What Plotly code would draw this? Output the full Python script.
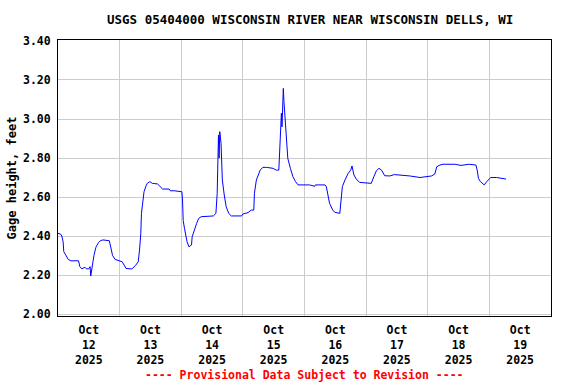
import pandas as pd
import plotly.graph_objects as go

# Hours after 2025-10-12 00:00 and gage height (feet)
hours = [0, 1, 1.5, 2, 2.25, 3, 4, 5, 8, 8.5, 9.25, 10.5, 11, 12, 12.5, 12.75, 13.5, 14, 14.75,
         15.75, 16.5, 17.5, 20, 20.5, 21.25, 22.25, 23.75, 25, 26.5, 28.75, 30.25, 31.25, 31.75,
         32.25, 32.5, 33, 33.5, 34.25, 34.75, 35.75, 36.75, 38.75, 39.5, 40.75, 43.25, 43.75,
         45.25, 47.5, 48.25, 48.5, 48.75, 49.25, 49.75, 50.25, 51, 52, 52.25, 53.25, 54, 54.75,
         55.75, 60.5, 61.5, 62, 62.25, 62.5, 62.75, 63, 63.5, 64, 64.75, 65.5, 66.5, 67.5, 71.5,
         72, 74, 75.25, 76.25, 76.5, 77.25, 78, 78.75, 79.75, 81.25, 83.75, 85, 86, 86.5, 87,
         87.25, 87.75, 88, 88.5, 89, 89.5, 90.5, 91.5, 92.5, 93.5, 98, 100, 100.25, 104, 104.5,
         105.25, 105.75, 107, 107.75, 109.75, 110.25, 110.75, 111.75, 113, 114, 114.5, 115.25,
         116.25, 117.5, 122, 123, 124, 125, 126, 127.25, 129.25, 131, 133, 137, 141, 145.5,
         146.75, 147.5, 148.75, 150, 154.5, 157, 160, 162.75, 163.25, 163.75, 164.5, 166, 167,
         168.5, 170.75, 172.75, 174.5]
stage = [2.414, 2.41, 2.40, 2.37, 2.32, 2.30, 2.28, 2.273, 2.273, 2.243, 2.232, 2.24, 2.232,
         2.232, 2.243, 2.195, 2.277, 2.30, 2.342, 2.366, 2.376, 2.38, 2.376, 2.35, 2.30, 2.28,
         2.273, 2.268, 2.234, 2.231, 2.25, 2.268, 2.328, 2.414, 2.516, 2.576, 2.627, 2.656,
         2.670, 2.679, 2.670, 2.667, 2.655, 2.641, 2.641, 2.632, 2.632, 2.627, 2.627, 2.585,
         2.48, 2.44, 2.405, 2.371, 2.345, 2.354, 2.396, 2.44, 2.465, 2.49, 2.499, 2.503, 2.516,
         2.619, 2.798, 2.918, 2.80, 2.935, 2.875, 2.687, 2.61, 2.55, 2.516, 2.503, 2.503, 2.513,
         2.52, 2.533, 2.533, 2.619, 2.687, 2.713, 2.738, 2.752, 2.752, 2.747, 2.738, 2.738,
         2.892, 3.029, 2.96, 3.157, 3.089, 2.995, 2.892, 2.798, 2.747, 2.704, 2.679, 2.662,
         2.662, 2.655, 2.662, 2.662, 2.653, 2.60, 2.568, 2.533, 2.522, 2.516, 2.585, 2.653,
         2.687, 2.721, 2.738, 2.759, 2.713, 2.69, 2.675, 2.67, 2.704, 2.735, 2.747, 2.738,
         2.709, 2.708, 2.715, 2.713, 2.708, 2.70, 2.708, 2.718, 2.755, 2.764, 2.768, 2.768,
         2.762, 2.768, 2.764, 2.738, 2.696, 2.679, 2.662, 2.679, 2.70, 2.70, 2.696, 2.692]

day_labels = ["Oct<br>12<br>2025", "Oct<br>13<br>2025", "Oct<br>14<br>2025", "Oct<br>15<br>2025",
              "Oct<br>16<br>2025", "Oct<br>17<br>2025", "Oct<br>18<br>2025", "Oct<br>19<br>2025"]
y_ticks = [2.0, 2.2, 2.4, 2.6, 2.8, 3.0, 3.2, 3.4]

start = pd.Timestamp("2025-10-12 00:00")
times = [start + pd.Timedelta(hours=h) for h in hours]
label_pos = [start + pd.Timedelta(hours=12 + 24 * i) for i in range(len(day_labels))]
grid_pos = [start + pd.Timedelta(days=i) for i in range(1, 8)]

FONT = "DejaVu Sans Mono"

fig = go.Figure()
fig.add_trace(go.Scatter(x=times, y=stage, mode="lines",
                         line=dict(color="#0000ff", width=1), showlegend=False))

fig.update_layout(
    width=576, height=384,
    margin=dict(l=58, r=25, t=40, b=68, autoexpand=False),
    plot_bgcolor="white", paper_bgcolor="white",
    font=dict(family=FONT, color="black", size=11),
    xaxis=dict(
        type="date",
        range=[start, start + pd.Timedelta(days=8)],
        tickmode="array", tickvals=label_pos, ticktext=day_labels,
        showgrid=False, ticks="", automargin=False, ticklabelstandoff=3,
        tickfont=dict(family=FONT, size=11.5, color="black", weight="bold"),
        showline=True, linecolor="black", linewidth=1, mirror=True,
        minor=dict(tickmode="array", tickvals=grid_pos, showgrid=True,
                   gridcolor="#cccccc", gridwidth=1, ticks=""),
        zeroline=False,
    ),
    yaxis=dict(
        range=[1.99, 3.405],
        tickmode="array", tickvals=y_ticks, ticktext=[f"{v:.2f}" for v in y_ticks],
        showgrid=True, gridcolor="#cccccc", gridwidth=1,
        ticks="", ticklabelstandoff=4, automargin=False,
        tickfont=dict(family=FONT, size=11.5, color="black", weight="bold"),
        showline=True, linecolor="black", linewidth=1, mirror=True,
        zeroline=False,
        title=dict(text="Gage height, feet", standoff=3,
                   font=dict(family=FONT, size=12, color="black", weight="bold")),
    ),
)

fig.add_annotation(text="USGS 05404000 WISCONSIN RIVER NEAR WISCONSIN DELLS, WI",
                   xref="paper", yref="paper", x=0.511, y=1.0, yshift=21,
                   showarrow=False, xanchor="center", yanchor="middle",
                   font=dict(family=FONT, size=12.5, color="black", weight="bold"))
fig.add_annotation(text="---- Provisional Data Subject to Revision ----",
                   xref="paper", yref="paper", x=0.499, y=0.0, yshift=-59,
                   showarrow=False, xanchor="center", yanchor="middle",
                   font=dict(family=FONT, size=11.5, color="#ff0000", weight="bold"))

fig.write_html("out.html", config={"displayModeBar": False},
               post_script="document.body.style.margin='0';document.body.style.overflow='hidden';")
